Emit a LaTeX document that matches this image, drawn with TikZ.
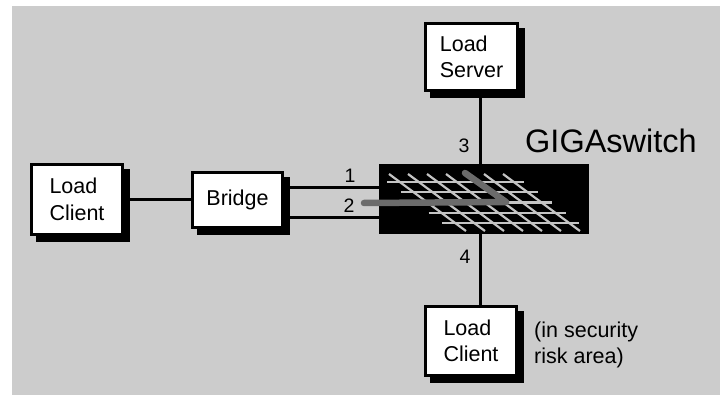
\documentclass[tikz,border=0pt]{standalone}
\usepackage{fontspec}
\setmainfont{Liberation Sans}
\definecolor{bggray}{HTML}{CCCCCC}
\definecolor{gridgray}{HTML}{C4C4C4}
\definecolor{pathgray}{HTML}{6B6B6B}
\begin{document}
\begin{tikzpicture}[x=1pt,y=-1pt,
  box/.style={draw=black, line width=2.8pt, fill=white, inner sep=0pt, align=left,
    font=\fontsize{21.5}{26.5}\selectfont},
  shadowbox/.style={fill=black, draw=none, inner sep=0pt},
  wire/.style={line width=3pt},
  num/.style={font=\fontsize{19.5}{22}\selectfont, inner sep=0pt},
  gridline/.style={draw=gridgray, line width=2.2pt}]
\useasboundingbox (0,0) rectangle (720,395);
\fill[white] (0,0) rectangle (720,395);
\fill[bggray] (12,6) rectangle (720,395);

% drop shadows (drawn first, offset 6 right and 6 down)
\node[shadowbox, minimum width=93.8pt, minimum height=72.8pt] (lcs) at (83,205.5) {};
\node[shadowbox, minimum width=92.8pt, minimum height=57.8pt] (brs) at (243.5,206) {};
\node[shadowbox, minimum width=94.8pt, minimum height=70.3pt] (lss) at (477.5,63) {};
\node[shadowbox, minimum width=93.8pt, minimum height=72.3pt] (lc2s) at (477,347) {};

\node[box, minimum width=91pt, minimum height=70pt] (lc) at (77,199.5) {Load\\Client};
\node[box, minimum width=90pt, minimum height=55pt] (br) at (237.5,200) {Bridge};
\node[box, minimum width=92pt, minimum height=67.5pt] (ls) at (471.5,57) {Load\\Server};
\node[box, minimum width=91pt, minimum height=69.5pt] (lc2) at (471,341) {Load\\Client};
\node[fill=black, inner sep=0pt, minimum width=210pt, minimum height=70pt] (sw) at (484,199) {};

% connectors
\draw[wire] (lcs.east |- lc.east) -- (lc.east -| br.west);
\draw[wire] (brs.east |- 0,188) -- (sw.west |- 0,188);
\draw[wire] (brs.east |- 0,218) -- (sw.west |- 0,218);
\draw[wire] (lss.south -| 480,0) -- (sw.north -| 480,0);
\draw[wire] (sw.south -| 480,0) -- (lc2.north -| 480,0);

% crossbar grid
\foreach \j in {0,...,4} {
  \pgfmathsetmacro{\yy}{182+10.25*\j}
  \pgfmathsetmacro{\xa}{387+1.35*(\yy-182)}
  \pgfmathsetmacro{\xb}{524+1.35*(\yy-182)}
  \draw[gridline] (\xa,\yy) -- (\xb,\yy);
}
\foreach \i in {0,...,6} {
  \pgfmathsetmacro{\xt}{389+19*\i}
  \draw[gridline] (\xt,174) -- (\xt+1.35*57,231);
}
\draw[line width=6.5pt, pathgray, line cap=round, line join=round]
  (465,173) -- (506,202) -- (364,203);

% labels
\node[num] (n1) at (350,176) {1};
\node[num] (n2) at (349,206) {2};
\node[num] (n3) at (464,146) {3};
\node[num] (n4) at (465,257) {4};
\node[font=\fontsize{32.5}{36}\selectfont, inner sep=0pt, anchor=base west] (gs) at (525,153) {GIGAswitch};
\node[font=\fontsize{21.5}{25.5}\selectfont, inner sep=0pt, align=left, anchor=west] (risk) at (534,345) {(in security\\risk area)};
\end{tikzpicture}
\end{document}
